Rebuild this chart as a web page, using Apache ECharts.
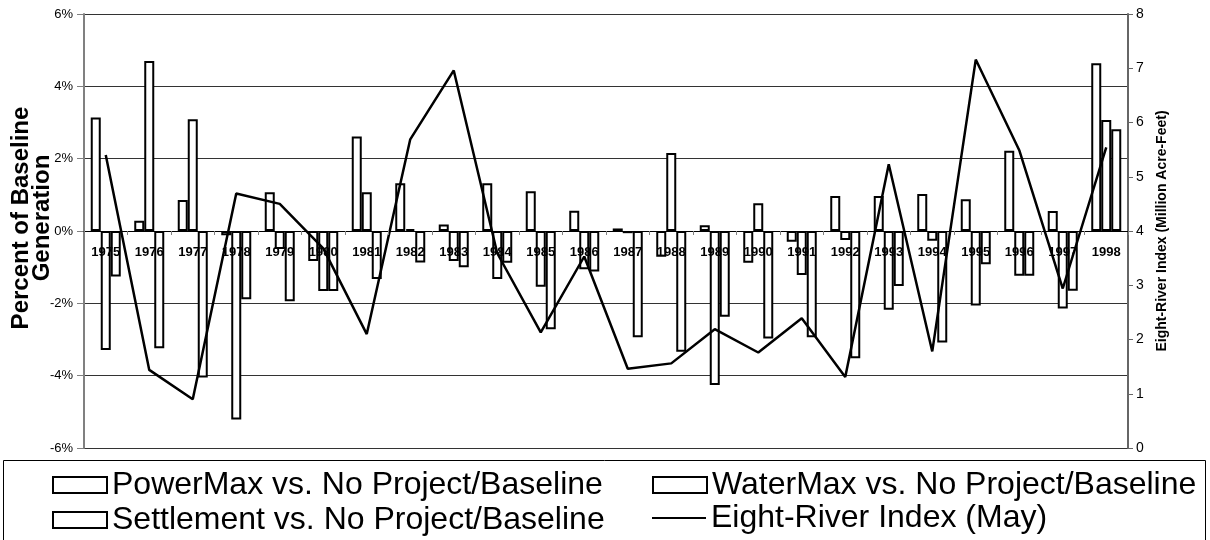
<!DOCTYPE html>
<html>
<head>
<meta charset="utf-8">
<script src="https://cdn.jsdelivr.net/npm/echarts@6/dist/echarts.min.js"></script>
<style>
html,body{margin:0;padding:0;background:#fff;}
#chart{width:1210px;height:540px;}
</style>
</head>
<body>
<div id="chart"></div>
<script>
const years = ['1975','1976','1977','1978','1979','1980','1981','1982','1983','1984','1985','1986','1987','1988','1989','1990','1991','1992','1993','1994','1995','1996','1997','1998'];
const powerMax = [3.14, 0.28, 0.86, -0.12, 1.07, -0.83, 2.61, 1.32, 0.18, 1.32, 1.10, 0.56, 0.07, -0.71, 0.16, -0.88, -0.30, 0.97, 0.97, 1.02, 0.88, 2.22, 0.55, 4.64];
const waterMax = [-3.29, 4.70, 3.09, -5.21, -0.50, -1.66, 1.07, 0.05, -0.83, -1.33, -1.54, -1.06, -0.06, 2.16, -4.26, 0.77, -1.22, -0.25, -2.18, -0.27, -2.06, -1.24, -2.14, 3.07];
const settlement = [-1.26, -3.24, -4.05, -1.89, -1.94, -1.66, -1.33, -0.87, -1.00, -0.88, -2.72, -1.12, -2.94, -3.34, -2.37, -2.97, -2.94, -3.52, -1.52, -3.08, -0.92, -1.24, -1.65, 2.81];
const eightRiver = [5.40, 1.44, 0.90, 4.69, 4.50, 3.68, 2.10, 5.69, 6.96, 3.59, 2.13, 3.53, 1.46, 1.56, 2.19, 1.76, 2.39, 1.31, 5.23, 1.78, 7.16, 5.49, 2.94, 5.54];
const leftTicks = {min: -6, max: 6, interval: 2};
const rightTicks = {min: 0, max: 8, interval: 1};
const names = {
  p: 'PowerMax vs. No Project/Baseline',
  w: 'WaterMax vs. No Project/Baseline',
  s: 'Settlement vs. No Project/Baseline',
  e: 'Eight-River Index (May)'
};

const FONT = 'Arial, "Liberation Sans", sans-serif';
const barStyle = {color: '#ffffff', borderColor: '#000000', borderWidth: 2};
const chart = echarts.init(document.getElementById('chart'), null, {renderer: 'canvas'});

const GRID_TOP = 14, GRID_BOTTOM_Y = 448;
// pixel distance from bottom of grid to the zero line of the left axis
const zeroOffset = (GRID_BOTTOM_Y - GRID_TOP) * (0 - leftTicks.min) / (leftTicks.max - leftTicks.min);

function barSeries(name, data) {
  return {
    name: name, type: 'bar', data: data, barWidth: 10, barGap: '0%',
    itemStyle: barStyle, z: 2
  };
}

const legendText = {fontSize: 32, color: '#000', fontFamily: FONT, lineHeight: 30};
const option = {
  animation: false,
  backgroundColor: '#ffffff',
  textStyle: {fontFamily: FONT},
  grid: {left: 84, right: 82, top: GRID_TOP, bottom: 540 - GRID_BOTTOM_Y, outerBoundsMode: 'none', containLabel: false},
  graphic: [{
    type: 'rect', shape: {x: 3.5, y: 460.5, width: 1202, height: 100},
    style: {fill: 'none', stroke: '#000', lineWidth: 1}, silent: true, z: 0
  }],
  legend: [{
    orient: 'vertical', left: 52, top: 469, itemGap: 3, padding: 0,
    itemWidth: 54, itemHeight: 16, textStyle: legendText,
    data: [
      {name: names.p, icon: 'rect', itemStyle: barStyle},
      {name: names.s, icon: 'rect', itemStyle: barStyle}
    ]
  }, {
    orient: 'vertical', left: 652, top: 469, padding: 0,
    itemWidth: 54, itemHeight: 16, textStyle: legendText,
    data: [
      {name: names.w, icon: 'rect', itemStyle: barStyle}
    ]
  }, {
    orient: 'vertical', left: 652, top: 502, padding: 0,
    itemWidth: 54, itemHeight: 2, textStyle: legendText,
    data: [
      {name: names.e, icon: 'rect', itemStyle: {color: '#000', borderWidth: 0}}
    ]
  }],
  xAxis: {
    type: 'category', data: years, position: 'bottom',
    offset: -zeroOffset, z: 10,
    axisLine: {show: true, onZero: false, lineStyle: {color: '#000', width: 1}},
    axisTick: {show: true, length: 4, lineStyle: {color: '#808080'}},
    axisLabel: {fontWeight: 'bold', fontSize: 13, color: '#000', margin: 15, interval: 0, fontFamily: FONT},
    splitLine: {show: false}
  },
  yAxis: [{
    type: 'value', position: 'left',
    min: leftTicks.min, max: leftTicks.max, interval: leftTicks.interval,
    name: 'Percent of Baseline\nGeneration', nameLocation: 'middle', nameRotate: 90, nameGap: 31,
    nameMoveOverlap: false,
    nameTextStyle: {fontSize: 24, fontWeight: 'bold', color: '#000', lineHeight: 21, fontFamily: FONT, padding: [0, 0, 0, 26]},
    axisLine: {show: true, lineStyle: {color: '#808080', width: 2}},
    axisTick: {show: true, length: 7, lineStyle: {color: '#808080'}},
    axisLabel: {formatter: '{value}%', fontSize: 13, color: '#000', margin: 11, fontFamily: FONT},
    splitLine: {show: true, lineStyle: {color: '#333', width: 1}}
  }, {
    type: 'value', position: 'right',
    min: rightTicks.min, max: rightTicks.max, interval: rightTicks.interval,
    name: 'Eight-River Index (Million Acre-Feet)', nameLocation: 'middle', nameRotate: 90, nameGap: 19,
    nameTextStyle: {fontSize: 14, fontWeight: 'bold', color: '#000', fontFamily: FONT},
    axisLine: {show: true, lineStyle: {color: '#666', width: 2}},
    axisTick: {show: true, length: 5, lineStyle: {color: '#666'}},
    axisLabel: {fontSize: 14, color: '#000', margin: 8, fontFamily: FONT},
    splitLine: {show: false}
  }],
  series: [
    barSeries(names.p, powerMax),
    barSeries(names.w, waterMax),
    barSeries(names.s, settlement),
    {
      name: names.e, type: 'line', yAxisIndex: 1, data: eightRiver,
      symbol: 'none', showSymbol: false,
      lineStyle: {color: '#000', width: 2.5}, itemStyle: {color: '#000'}, z: 5
    }
  ]
};
chart.setOption(option);
</script>
</body>
</html>
